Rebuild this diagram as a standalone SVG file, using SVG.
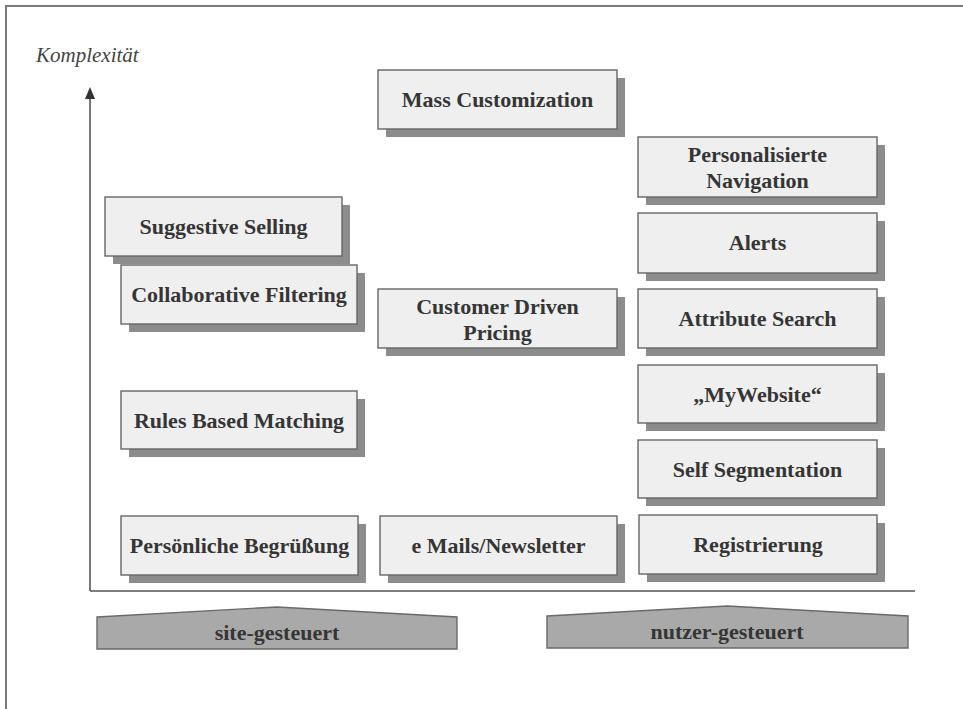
<svg xmlns="http://www.w3.org/2000/svg" width="963" height="709" viewBox="0 0 963 709">
  <style>
    .frame { fill: none; stroke: #7a7a7a; stroke-width: 2; }
    .axis { stroke: #555; stroke-width: 1.6; fill: none; }
    .arrow { fill: #333; }
    .shadow { fill: #8c8c8c; }
    .box { fill: #efefef; stroke: #666; stroke-width: 1.4; }
    .label { font-family: "Liberation Serif", "Times New Roman", serif; font-weight: bold; font-size: 22px; fill: #353535; text-anchor: middle; }
    .axis-title { font-family: "Liberation Serif", "Times New Roman", serif; font-style: italic; font-size: 21px; fill: #444; }
    .base { fill: #a9a9a9; stroke: #6a6a6a; stroke-width: 1.4; }
  </style>
  <rect width="963" height="709" fill="#ffffff"/>
  <rect class="frame" x="6" y="6" width="975" height="730"/>

  <g id="axes">
    <line class="axis" x1="90" y1="591" x2="90" y2="96"/>
    <polygon class="arrow" points="90,87 85,99 95,99"/>
    <line class="axis" x1="90" y1="591" x2="915" y2="591"/>
    <text class="axis-title" x="36" y="62">Komplexität</text>
  </g>

  <!-- left column: site-driven -->
  <g id="suggestive-selling">
    <rect class="shadow" x="113" y="205" width="237" height="59"/>
    <rect class="box" x="105" y="197" width="237" height="59"/>
    <text class="label" x="223.5" y="234">Suggestive Selling</text>
  </g>
  <g id="collaborative-filtering">
    <rect class="shadow" x="129" y="273" width="236" height="59"/>
    <rect class="box" x="121" y="265" width="236" height="59"/>
    <text class="label" x="239" y="302">Collaborative Filtering</text>
  </g>
  <g id="rules-based-matching">
    <rect class="shadow" x="129" y="399" width="236" height="58"/>
    <rect class="box" x="121" y="391" width="236" height="58"/>
    <text class="label" x="239" y="428">Rules Based Matching</text>
  </g>
  <g id="persoenliche-begruessung">
    <rect class="shadow" x="129" y="524" width="237" height="59"/>
    <rect class="box" x="121" y="516" width="237" height="59"/>
    <text class="label" x="239.5" y="553">Persönliche Begrüßung</text>
  </g>

  <!-- middle column -->
  <g id="mass-customization">
    <rect class="shadow" x="386" y="78" width="239" height="59"/>
    <rect class="box" x="378" y="70" width="239" height="59"/>
    <text class="label" x="497.5" y="107">Mass Customization</text>
  </g>
  <g id="customer-driven-pricing">
    <rect class="shadow" x="386" y="297" width="239" height="59"/>
    <rect class="box" x="378" y="289" width="239" height="59"/>
    <text class="label" x="497.5" y="314">Customer Driven</text>
    <text class="label" x="497.5" y="340">Pricing</text>
  </g>
  <g id="e-mails-newsletter">
    <rect class="shadow" x="388" y="524" width="237" height="59"/>
    <rect class="box" x="380" y="516" width="237" height="59"/>
    <text class="label" x="498.5" y="553">e Mails/Newsletter</text>
  </g>

  <!-- right column: user-driven -->
  <g id="personalisierte-navigation">
    <rect class="shadow" x="646" y="145" width="239" height="60"/>
    <rect class="box" x="638" y="137" width="239" height="60"/>
    <text class="label" x="757.5" y="162">Personalisierte</text>
    <text class="label" x="757.5" y="188">Navigation</text>
  </g>
  <g id="alerts">
    <rect class="shadow" x="646" y="221" width="239" height="60"/>
    <rect class="box" x="638" y="213" width="239" height="60"/>
    <text class="label" x="757.5" y="250">Alerts</text>
  </g>
  <g id="attribute-search">
    <rect class="shadow" x="646" y="297" width="239" height="59"/>
    <rect class="box" x="638" y="289" width="239" height="59"/>
    <text class="label" x="757.5" y="326">Attribute Search</text>
  </g>
  <g id="mywebsite">
    <rect class="shadow" x="646" y="373" width="239" height="58"/>
    <rect class="box" x="638" y="365" width="239" height="58"/>
    <text class="label" x="757.5" y="402">„MyWebsite“</text>
  </g>
  <g id="self-segmentation">
    <rect class="shadow" x="646" y="448" width="239" height="58"/>
    <rect class="box" x="638" y="440" width="239" height="58"/>
    <text class="label" x="757.5" y="477">Self Segmentation</text>
  </g>
  <g id="registrierung">
    <rect class="shadow" x="647" y="523" width="238" height="59"/>
    <rect class="box" x="639" y="515" width="238" height="59"/>
    <text class="label" x="758" y="552">Registrierung</text>
  </g>

  <!-- base categories -->
  <g id="site-gesteuert">
    <path class="base" d="M97,617 L277,607 L457,617 L457,649 L97,649 Z"/>
    <text class="label" x="277" y="640">site-gesteuert</text>
  </g>
  <g id="nutzer-gesteuert">
    <path class="base" d="M547,616 L727,606 L908,616 L908,648 L547,648 Z"/>
    <text class="label" x="727" y="639">nutzer-gesteuert</text>
  </g>
</svg>
